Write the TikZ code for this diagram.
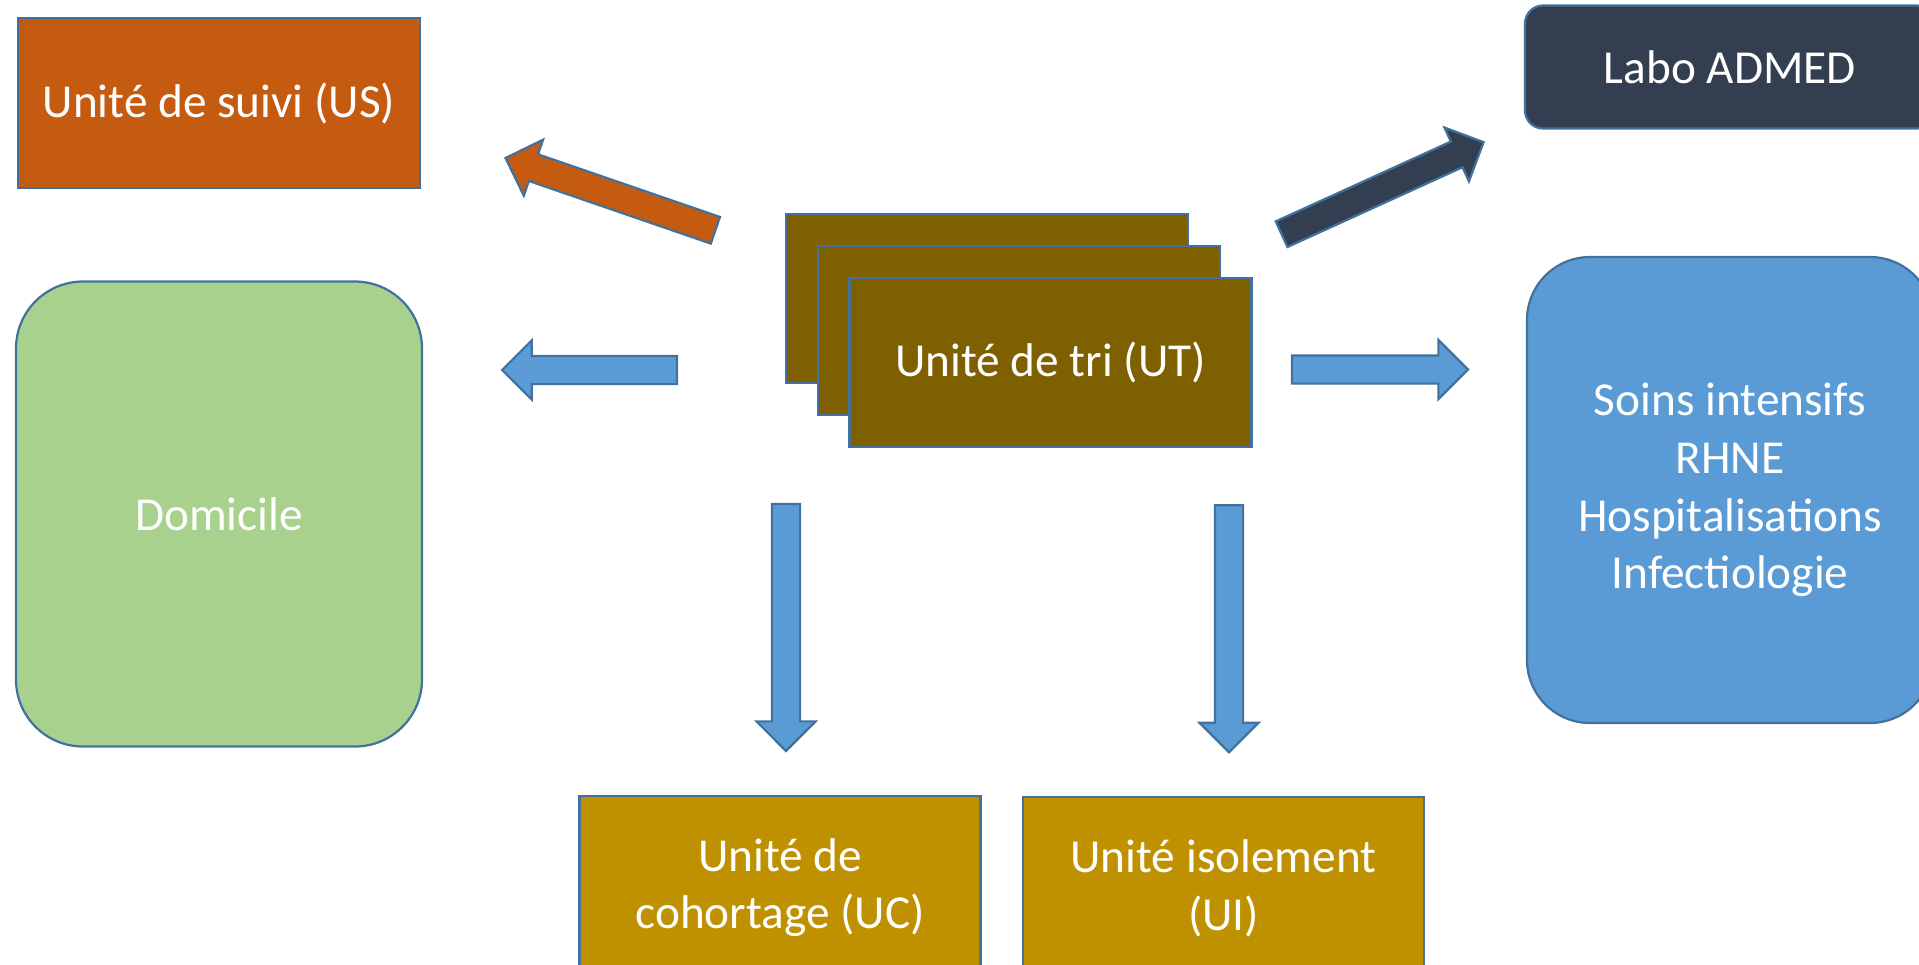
\documentclass[tikz,border=0pt]{standalone}
\usepackage{fontspec}
\setmainfont{Carlito}
\usetikzlibrary{shapes,arrows}
\usetikzlibrary{calc}
\definecolor{rim}{HTML}{41719C}
\definecolor{suivi}{HTML}{C55A11}
\definecolor{labo}{HTML}{333F50}
\definecolor{domicile}{HTML}{A9D18E}
\definecolor{soins}{HTML}{5B9BD5}
\definecolor{tri}{HTML}{7F6000}
\definecolor{cohorte}{HTML}{BF9000}
\tikzset{unit/.style={draw=rim, line width=2.2pt, text=white, align=center, inner sep=0pt, font=\fontsize{47.3pt}{57.7pt}\selectfont}}
\tikzset{flow/.style={single arrow, draw=rim, line width=2.2pt, anchor=tip, minimum height=#1, minimum width=0pt, inner xsep=0pt, inner ysep=13pt, single arrow head extend=15.5pt}}

\begin{document}
\begin{tikzpicture}[x=1pt, y=-1pt]
\useasboundingbox (0,0) rectangle (1919,964);
\clip (0,0) rectangle (1919,964);
\node [unit, fill=suivi, minimum width=402pt, minimum height=170pt] (us) at (219,103) {Unité de suivi (US)};
\node [unit, fill=labo, rounded corners=18pt, minimum width=410pt, minimum height=123pt] (labo) at (1730,67) {Labo ADMED};
\node [unit, fill=domicile, rounded corners=67pt, minimum width=406pt, minimum height=465pt] (dom) at (219,514) {Domicile};
\node [unit, fill=soins, rounded corners=63pt, minimum width=406pt, minimum height=466pt] (soins) at (1730,490) {Soins intensifs\\RHNE\\Hospitalisations\\Infectiologie};
\node [unit, fill=tri, minimum width=402pt, minimum height=169pt] (tri1) at (987,298.5) {};
\node [unit, fill=tri, minimum width=402pt, minimum height=169pt] (tri2) at ($(tri1)+(32,32)$) {};
\node [unit, fill=tri, minimum width=402pt, minimum height=169pt] (tri) at ($(tri2)+(31.5,32)$) {Unité de tri (UT)};
\node [unit, fill=cohorte, minimum width=401pt, minimum height=183pt] (uc) at (780,887.5) {Unité de\\cohortage (UC)};
\node [unit, fill=cohorte, minimum width=401pt, minimum height=183pt] (ui) at (1223.5,888.5) {Unité isolement\\(UI)};
%Arrows
\node [flow=222pt, fill=suivi, rotate=161] (toUS) at (504,157.5) {};
\node [flow=222pt, fill=labo, rotate=24.5] (toLabo) at (1485,141.5) {};
\node [flow=175pt, fill=soins, rotate=180] (toDom) at (500.5,370) {};
\node [flow=176pt, fill=soins] (toSoins) at (1469.5,369.5) {};
\node [flow=247pt, fill=soins, rotate=270] (toUC) at (786,752.5) {};
\node [flow=247pt, fill=soins, rotate=270] (toUI) at (1229,753.8) {};
\end{tikzpicture}
\end{document}
